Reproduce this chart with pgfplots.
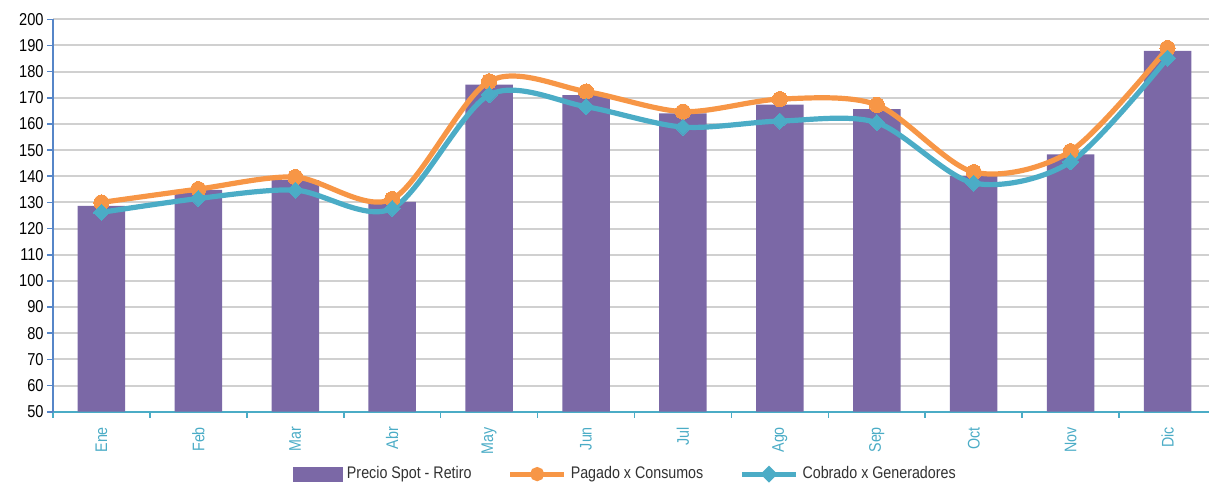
\documentclass[border=0pt]{standalone}
\usepackage{fontspec}
\setmainfont{Liberation Sans}[FakeStretch=0.85]
\usepackage{pgfplots}
\pgfplotsset{compat=1.18}
\usetikzlibrary{calc}
\definecolor{barc}{RGB}{123,104,166}
\definecolor{orc}{RGB}{247,150,70}
\definecolor{blc}{RGB}{75,172,198}
\definecolor{gridc}{RGB}{208,208,208}
\definecolor{yaxc}{RGB}{86,134,200}
\definecolor{xaxc}{RGB}{75,172,198}
\definecolor{labc}{RGB}{75,172,198}
\definecolor{legc}{RGB}{50,50,50}
\begin{document}
\begin{tikzpicture}
\begin{axis}[
  scale only axis, width=581.5pt, height=196.2pt,
  xmin=-0.5, xmax=11.5, ymin=50, ymax=200,
  axis lines=left, axis line style={-},
  x axis line style={draw=xaxc, line width=0.9pt},
  y axis line style={draw=yaxc, line width=0.9pt},
  /pgf/number format/assume math mode=true,
  ytick={50,60,...,200},
  xtick={-0.5,0.5,...,11.5},
  x tick label as interval,
  xticklabels={Ene,Feb,Mar,Abr,May,Jun,Jul,Ago,Sep,Oct,Nov,Dic},
  tick align=outside, major tick length=3pt,
  xtick style={draw=xaxc, line width=0.8pt},
  ytick style={draw=yaxc, line width=0.8pt},
  ymajorgrids, grid style={draw=gridc, line width=1pt},
  xticklabel style={yshift=-4.5pt, rotate=90, anchor=east, font=\fontsize{8.4}{9}\selectfont, text=labc, inner sep=0pt},
  yticklabel style={font=\fontsize{8.6}{9}\selectfont, text=black, inner sep=0pt, xshift=-1.5pt},
  legend style={at={(0.493,-0.159)}, anchor=center, legend columns=3, draw=none, fill=none,
    font=\fontsize{8.4}{9}\selectfont, text=legc,
    /tikz/every even column/.append style={column sep=16pt},
    /tikz/every odd column/.append style={column sep=0pt}},
  legend cell align=left,
]
\addplot[ybar, bar width=0.49, fill=barc, draw=none,
  legend image code/.code={\fill[barc] (0pt,-3.8pt) rectangle (25pt,3.8pt);}]
  coordinates {(0,128.7) (1,134.8) (2,138.5) (3,130.2) (4,175.0) (5,171.0) (6,164.0) (7,167.4) (8,165.7) (9,140.1) (10,148.4) (11,187.9)};
\addlegendentry{Precio Spot - Retiro}
\addplot[orc, line width=2.6pt, smooth, tension=0.5, mark=*, mark size=3.8pt, mark options={fill=orc, draw=orc, line width=0pt},
  legend image code/.code={\draw[orc, line width=2.6pt] (0pt,0pt) -- (27pt,0pt); \fill[orc] (13.5pt,0pt) circle (2.2pt);}]
  coordinates {(0,130.0) (1,135.1) (2,139.7) (3,131.3) (4,176.3) (5,172.4) (6,164.7) (7,169.5) (8,167.3) (9,141.6) (10,149.6) (11,189.0)};
\addlegendentry{Pagado x Consumos}
\addplot[blc, line width=2.6pt, smooth, tension=0.5, mark=diamond*, mark size=4pt, mark options={fill=blc, draw=blc, line width=0pt, xscale=1.35},
  legend image code/.code={\draw[blc, line width=2.6pt] (0pt,0pt) -- (27pt,0pt); \fill[blc] (13.5pt,2.4pt) -- (15.9pt,0pt) -- (13.5pt,-2.4pt) -- (11.1pt,0pt) -- cycle;}]
  coordinates {(0,126.2) (1,131.5) (2,134.7) (3,127.7) (4,171.1) (5,166.6) (6,158.8) (7,161.1) (8,160.5) (9,137.4) (10,145.5) (11,185.2)};
\addlegendentry{Cobrado x Generadores}
\end{axis}
\pgfresetboundingbox
\path[use as bounding box] ($(current axis.south west)+(-26.5pt,-36.15pt)$) rectangle ($(current axis.north east)+(-3.5pt,9.65pt)$);
\end{tikzpicture}
\end{document}
